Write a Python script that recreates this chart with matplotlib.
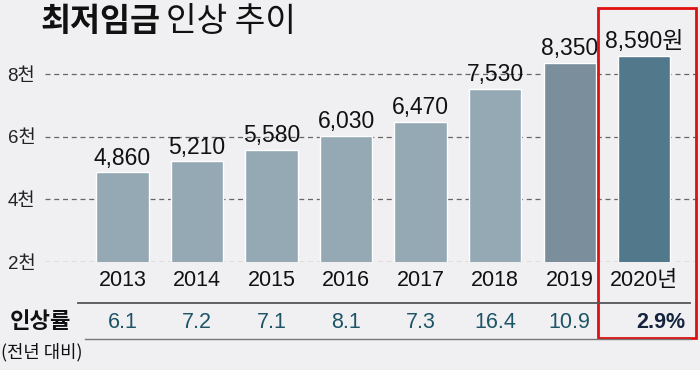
import matplotlib.pyplot as plt
from matplotlib.patches import Rectangle
from matplotlib.lines import Line2D

years = ["2013", "2014", "2015", "2016", "2017", "2018", "2019", "2020년"]
wages = [4860, 5210, 5580, 6030, 6470, 7530, 8350, 8590]
wage_labels = ["4,860", "5,210", "5,580", "6,030", "6,470", "7,530", "8,350", "8,590원"]
rates = ["6.1", "7.2", "7.1", "8.1", "7.3", "16.4", "10.9", "2.9%"]
yticks = [2000, 4000, 6000, 8000]
ytick_labels = ["2천", "4천", "6천", "8천"]

bg = "#f0f0f2"
bar_colors = ["#95a9b5"] * 6 + ["#7a8f9b", "#52788b"]
num_font = ["Liberation Sans", "Noto Sans CJK KR"]
kr_font = ["Noto Sans CJK KR", "DejaVu Sans"]

fig = plt.figure(figsize=(7, 3.7), dpi=100, facecolor=bg)
ax = fig.add_axes([45 / 700, 108 / 370, 655 / 700, 242 / 370], facecolor=bg)

x = list(range(len(years)))
ax.bar(x, wages, width=0.70, color=bar_colors, edgecolor="white",
       linewidth=1.0, zorder=3)

ax.set_xlim(-1.04, 7.75)
ax.set_ylim(2000, 9724)
for y in yticks:
    ax.axhline(y, color="#666666", lw=0.9, ls=(0, (4, 3)), zorder=1)

ax.set_yticks(yticks)
ax.set_yticklabels(ytick_labels, fontfamily=num_font, fontsize=13.5, color="#222222")
ax.set_xticks(x)
ax.set_xticklabels(years, fontfamily=num_font, fontsize=15.5, color="#111111")
ax.tick_params(axis="both", length=0)
ax.tick_params(axis="x", pad=6)
ax.tick_params(axis="y", pad=7)
for s in ax.spines.values():
    s.set_visible(False)

# value labels above bars
for xi, w, lab in zip(x, wages, wage_labels):
    ax.annotate(lab, (xi, w), xytext=(0, 2), textcoords="offset points",
                ha="center", va="bottom", fontfamily=num_font, fontsize=16.5,
                color="#111111", zorder=4)

# rates row
tr = ax.get_xaxis_transform()
for xi, r in zip(x, rates):
    if r.endswith("%"):
        ax.annotate(r, (xi, -0.248), xycoords=tr, xytext=(12, 0),
                    textcoords="offset points", ha="center", va="center",
                    fontfamily=num_font, fontsize=15.5, color="#14243d",
                    fontweight="bold", annotation_clip=False)
    else:
        ax.text(xi, -0.248, r, transform=tr, ha="center", va="center",
                fontfamily=num_font, fontsize=15.5, color="#1d5566", clip_on=False)

# table lines
fig.add_artist(Line2D([78 / 700, 690 / 700], [1 - 303 / 370, 1 - 303 / 370],
                      color="#555555", lw=1.3))
fig.add_artist(Line2D([85 / 700, 690 / 700], [1 - 339 / 370, 1 - 339 / 370],
                      color="#777777", lw=1.0))

fig.text(10 / 700, 1 - 322 / 370, "인상률", fontfamily=kr_font, fontsize=16,
         fontweight="bold", ha="left", va="center", color="#111111")
fig.text(1 / 700, 1 - 352 / 370, "(전년 대비)", fontfamily=kr_font, fontsize=12.8,
         ha="left", va="center", color="#111111")

# title
fig.text(40 / 700, 1 - 22 / 370, "최저임금", fontfamily=kr_font, fontsize=23.5,
         fontweight=900, ha="left", va="center", color="#111111")
fig.text(166 / 700, 1 - 22 / 370, "인상 추이", fontfamily=kr_font, fontsize=24,
         ha="left", va="center", color="#111111")

# highlight box for 2020
fig.add_artist(Rectangle((598 / 700, 1 - 338 / 370), 98 / 700, 330 / 370,
                         fill=False, edgecolor="#e01010", lw=2.0))

fig.savefig("out.png", dpi=100, facecolor=bg)
